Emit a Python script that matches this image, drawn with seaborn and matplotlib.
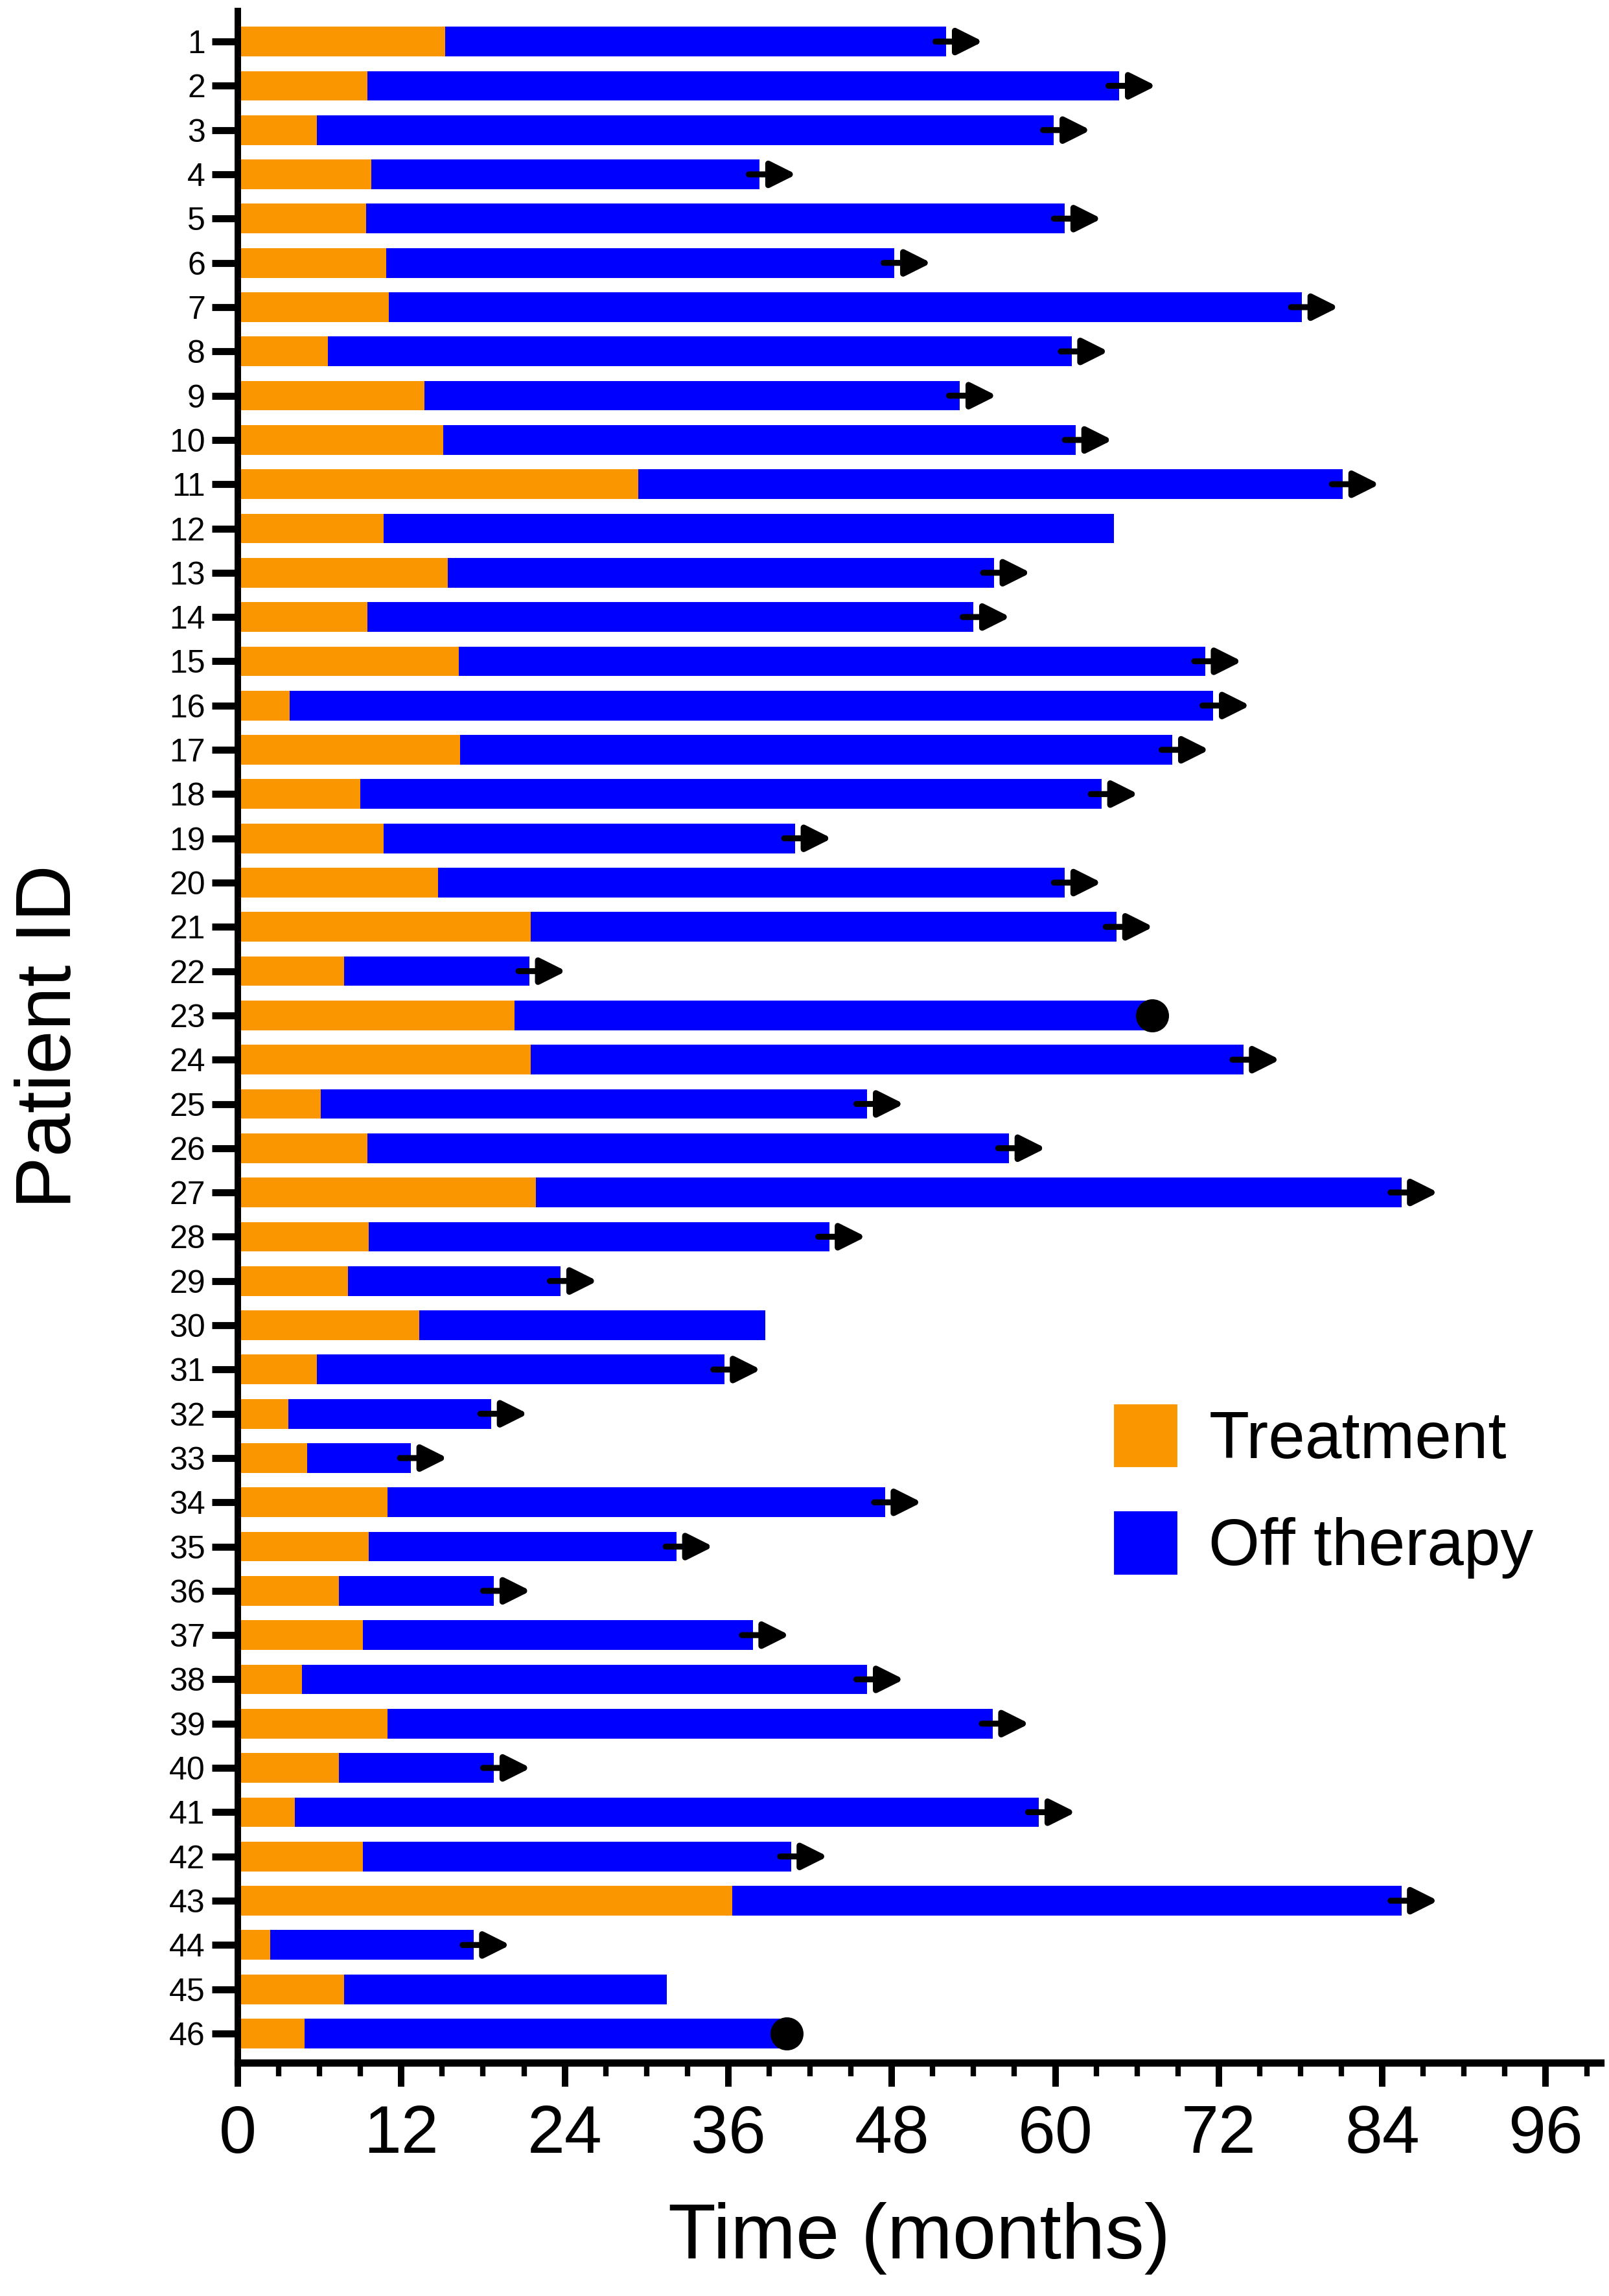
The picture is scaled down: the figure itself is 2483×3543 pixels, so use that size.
import matplotlib
matplotlib.use("Agg")
import matplotlib.pyplot as plt
import pandas as pd
import seaborn as sns
from matplotlib.patches import Patch
from matplotlib.ticker import MultipleLocator

# --- data (months) ---
patient_ids = [str(i) for i in range(1, 47)]
treatment_months = [
    15.2, 9.5, 5.8, 9.8, 9.4, 10.9, 11.1, 6.6, 13.7, 15.1,
    29.4, 10.7, 15.4, 9.5, 16.2, 3.8, 16.3, 9.0, 10.7, 14.7,
    21.5, 7.8, 20.3, 21.5, 6.1, 9.5, 21.9, 9.6, 8.1, 13.3,
    5.8, 3.7, 5.1, 11.0, 9.6, 7.4, 9.2, 4.7, 11.0, 7.4,
    4.2, 9.2, 36.3, 2.4, 7.8, 4.9,
]
total_months = [
    52.0, 64.7, 59.9, 38.3, 60.7, 48.2, 78.1, 61.2, 53.0, 61.5,
    81.1, 64.3, 55.5, 54.0, 71.0, 71.6, 68.6, 63.4, 40.9, 60.7,
    64.5, 21.4, 67.1, 73.8, 46.2, 56.6, 85.4, 43.4, 23.7, 38.7,
    35.7, 18.6, 12.7, 47.5, 32.2, 18.8, 37.8, 46.2, 55.4, 18.8,
    58.8, 40.6, 85.4, 17.3, 31.5, 40.3,
]
# "arrow" = ongoing follow-up, "dot" = event, "" = nothing
end_marker = [
    "arrow", "arrow", "arrow", "arrow", "arrow", "arrow", "arrow", "arrow", "arrow", "arrow",
    "arrow", "", "arrow", "arrow", "arrow", "arrow", "arrow", "arrow", "arrow", "arrow",
    "arrow", "arrow", "dot", "arrow", "arrow", "arrow", "arrow", "arrow", "arrow", "",
    "arrow", "arrow", "arrow", "arrow", "arrow", "arrow", "arrow", "arrow", "arrow", "arrow",
    "arrow", "arrow", "arrow", "arrow", "", "dot",
]
legend_labels = ["Treatment", "Off therapy"]

ORANGE = "#F99600"
BLUE = "#0000FF"

sns.set_style("ticks")
plt.rcParams["font.family"] = ["Liberation Sans", "DejaVu Sans"]
plt.rcParams.update({
    "axes.edgecolor": "black", "xtick.color": "black", "ytick.color": "black",
    "text.color": "black", "axes.labelcolor": "black",
})

df = pd.DataFrame({"patient": patient_ids, "treatment": treatment_months, "total": total_months})

fig = plt.figure(figsize=(2483 / 300, 3543 / 300), dpi=300)
ax = fig.add_axes([0.1478, 0.1016, 0.9946 - 0.1478, 0.9952 - 0.1016])

# blue = whole follow-up, orange drawn on top for the treatment part
sns.barplot(data=df, x="total", y="patient", orient="h", color=BLUE, saturation=1,
            width=0.67, errorbar=None, linewidth=0, ax=ax)
sns.barplot(data=df, x="treatment", y="patient", orient="h", color=ORANGE, saturation=1,
            width=0.67, errorbar=None, linewidth=0, ax=ax)

for i, (end, kind) in enumerate(zip(total_months, end_marker)):
    if kind == "arrow":
        ax.annotate("", xy=(end + 2.7, i), xytext=(end - 0.8, i),
                    arrowprops=dict(arrowstyle="-|>,head_length=0.4,head_width=0.2",
                                    color="black", lw=2.2, shrinkA=0, shrinkB=0,
                                    mutation_scale=20, capstyle="round"),
                    zorder=5)
    elif kind == "dot":
        ax.scatter([end], [i], s=150, color="black", marker="o", zorder=6, linewidths=0)

ax.set_xlim(0, 100)
ax.set_ylim(45.66, -0.69)
ax.xaxis.set_major_locator(MultipleLocator(12))
ax.xaxis.set_minor_locator(MultipleLocator(3))

sns.despine(ax=ax)
ax.spines["left"].set_linewidth(2.4)
ax.spines["bottom"].set_linewidth(2.7)
ax.tick_params(axis="y", length=9.6, width=2.6, pad=2.4, labelsize=12)
ax.tick_params(axis="x", which="major", length=8.9, width=2.4, pad=6.5, labelsize=25)
ax.tick_params(axis="x", which="minor", length=5.0, width=2.0)

ax.set_xlabel("Time (months)", fontsize=29)
ax.set_ylabel("Patient ID", fontsize=29)
ax.xaxis.set_label_coords(0.5, -0.068)
ax.yaxis.set_label_coords(-0.111, 0.5)
ax.xaxis.label.set_va("top")

handles = [Patch(facecolor=ORANGE, label=legend_labels[0]),
           Patch(facecolor=BLUE, label=legend_labels[1])]
ax.legend(handles=handles, loc="upper left", bbox_to_anchor=(0.6915, 0.389),
          bbox_transform=fig.transFigure, frameon=False, fontsize=24.4,
          handlelength=1.0, handleheight=1.16, handletextpad=0.46,
          labelspacing=0.58, borderpad=0, borderaxespad=0)

fig.savefig("out.png", dpi=300)
